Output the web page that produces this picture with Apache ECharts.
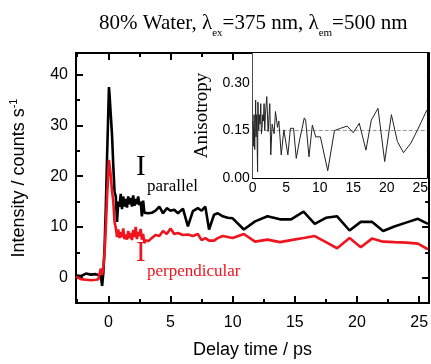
<!DOCTYPE html>
<html>
<head>
<meta charset="utf-8">
<script src="https://cdn.jsdelivr.net/npm/echarts@6/dist/echarts.min.js"></script>
<style>
html,body{margin:0;padding:0;background:#fff;}
#chart{width:431px;height:364px;}
</style>
</head>
<body>
<div id="chart"></div>
<script>
// ---- Data ----
var timeMain = [-2.6,-2.2,-1.8,-1.4,-1.0,-0.8,-0.6,-0.5,-0.4,-0.3,-0.2,-0.1,
  0,0.05,0.1,0.2,0.3,
  0.4,0.5,0.6,0.7,0.8,0.9,1.0,1.1,1.2,1.3,1.4,1.5,1.6,1.7,1.8,1.9,2.0,2.1,2.2,2.3,2.4,2.5,2.6,2.7,2.8,2.9,3.0,
  3.2,3.5,3.8,4.1,4.4,4.7,5.0,5.3,5.6,6.0,
  6.4,6.8,7.2,7.5,7.8,8.1,8.5,8.8,9.2,9.6,10.0,
  10.9,11.8,12.8,13.8,14.7,15.7,16.6,17.5,18.4,19.4,20.3,21.2,22.1,23.0,24.0,24.9,25.7];

var parallel = [0.4,0.3,0.8,0.6,0.7,0.5,0.3,-1.6,1.0,6,14,24,
  33,37.6,36,32,28,
  22,17,16,11,15,14,16.5,13.5,16,14,15.5,13.8,16,14.5,15.7,14,16.2,14.2,15.5,14.5,16,14.3,15,12.1,15.2,12.8,13,
  12.7,12.8,13.2,14,12.7,13.7,13.2,13.4,12.7,13.6,
  10.1,13.1,13.7,13.2,14.0,9.5,12.4,12.7,12.1,11.8,11.7,
  9.5,11.1,12.1,11.5,11.5,13.0,10.6,11.8,12.1,9.3,11.0,11.0,9.2,10.1,10.9,11.6,10.6];

var perpendicular = [0.2,-0.3,-0.4,-0.5,-0.4,-0.3,1.8,0.5,2,5,10,16,
  21,23.2,23,20,17,
  15,11,9.8,8,9.5,7.8,9,8,9.7,7.6,8.5,7.5,9.2,7.8,8.8,7.4,9.4,8.0,10,7.6,9.0,8.2,9.6,7.5,8.6,6.8,7.4,
  7.2,7.8,8.4,8.2,9.2,8.6,9.7,8.6,8.8,8.4,
  8.5,8.2,8.6,7.4,7.8,7.3,7.3,7.8,8.2,8.0,7.8,
  8.6,7.1,7.5,7.0,7.4,7.8,8.2,7.0,5.8,7.8,6.0,7.7,7.1,7.0,6.9,6.7,5.6];

var timeAniso = [0,0.1,0.15,0.2,0.3,0.44,0.5,0.6,0.73,0.78,0.9,0.98,1.1,1.2,1.3,1.4,1.5,1.6,1.7,1.8,
  1.9,2.1,2.3,2.45,2.55,2.7,2.9,3.2,3.4,3.7,3.9,4.26,4.65,5.25,5.63,6.1,6.5,7.0,7.7,7.9,
  8.4,8.9,9.4,10.1,11.2,12.2,13.1,14.1,15.0,15.9,16.9,17.7,18.7,19.7,20.7,21.6,22.5,23.6,24.6,26.0];
var anisotropy = [0.18,0.16,0.10,0.2,0.09,0.246,0.13,0.2,0.02,0.24,0.15,0.2,0.17,0.235,0.14,0.16,0.2,0.18,0.235,0.15,
  0.2,0.257,0.147,0.2,0.235,0.073,0.17,0.14,0.21,0.16,0.18,0.073,0.152,0.073,0.157,0.157,0.062,0.12,0.19,0.183,
  0.067,0.167,0.13,0.13,0.023,0.15,0.157,0.164,0.143,0.173,0.088,0.183,0.22,0.052,0.2,0.115,0.08,0.11,0.152,0.215];
var anisoRef = 0.15;

var mainXMajor = [0,5,10,15,20,25];
var mainXMinor = [-2.5,2.5,7.5,12.5,17.5,22.5];
var mainYMajor = [0,10,20,30,40];
var mainYMinor = [5,15,25,35];
var insetXTicks = [0,5,10,15,20,25];
var insetYTicks = [0,0.15,0.30];

// ---- Chart ----
var SANS = 'Arial, "Liberation Sans", sans-serif';
var SERIF = '"Times New Roman", "Liberation Serif", serif';
var RED = '#f0141e';

function pairs(xs, ys){ return xs.map(function(x,i){ return [x, ys[i]]; }); }

function xAx(grid, pos, min, max, opts){
  var a = {
    gridIndex: grid, type:'value', position: pos, min:min, max:max,
    axisLine:{show: opts.line, onZero:false, lineStyle:{color:'#000', width: opts.lw || 2}},
    axisTick:{show: !!opts.ticks, inside:true, length: opts.tl || 7, customValues: opts.ticks, lineStyle:{color:'#000', width: opts.tw || 2}},
    axisLabel:{show: !!opts.labels, customValues: opts.labels, color:'#000', fontFamily:SANS, fontSize: opts.fs || 16, margin: opts.margin || 10, formatter: opts.fmt},
    splitLine:{show:false}
  };
  return a;
}

var xAxes = [
  Object.assign(xAx(0,'bottom',-2.6,25.8,{line:true, ticks:mainXMajor, labels:mainXMajor, tl:7, margin:12}), {
    name:'Delay time / ps', nameLocation:'middle', nameGap:38,
    nameTextStyle:{fontFamily:SANS, fontSize:18, color:'#000'}
  }),
  xAx(0,'bottom',-2.6,25.8,{line:false, ticks:mainXMinor, tl:4}),
  xAx(0,'top',-2.6,25.8,{line:true, ticks:mainXMajor, tl:7}),
  xAx(0,'top',-2.6,25.8,{line:false, ticks:mainXMinor, tl:4}),
  xAx(1,'bottom',0,26,{line:true, lw:1, ticks:insetXTicks, labels:insetXTicks, tl:4, tw:1, fs:14, margin:3})
];

var yAxes = [
  Object.assign(xAx(0,'left',-5,44.3,{line:true, ticks:mainYMajor, labels:mainYMajor, tl:7, margin:8}), {
    name:'Intensity / counts s{sup|-1}', nameLocation:'middle', nameGap:46, nameRotate:90,
    nameTextStyle:{fontFamily:SANS, fontSize:18, color:'#000', lineHeight:22,
      rich:{sup:{fontFamily:SANS, fontSize:11, lineHeight:11, verticalAlign:'top', color:'#000'}}}
  }),
  xAx(0,'left',-5,44.3,{line:false, ticks:mainYMinor, tl:4}),
  xAx(0,'right',-5,44.3,{line:true, ticks:mainYMajor, tl:7}),
  xAx(0,'right',-5,44.3,{line:false, ticks:mainYMinor, tl:4}),
  Object.assign(xAx(1,'left',0,0.395,{line:true, lw:1, ticks:insetYTicks, labels:insetYTicks, tl:4, tw:1, fs:14, margin:3,
      fmt:function(v){ return v.toFixed(2); }}), {
    name:'Anisotropy', nameLocation:'middle', nameGap:41, nameRotate:90,
    nameTextStyle:{fontFamily:SERIF, fontSize:19, color:'#000'}
  }),
  xAx(1,'right',0,0.395,{line:true, lw:1})
];
yAxes.forEach(function(a){ a.type='value'; });

var option = {
  animation:false,
  backgroundColor:'#fff',
  title:{
    text:'80% Water, λ{s|ex}=375 nm, λ{s|em}=500 nm',
    left:94, top:3,
    textStyle:{fontFamily:SERIF, fontSize:21, fontWeight:'normal', color:'#000', lineHeight:31,
      rich:{s:{fontFamily:SERIF, fontSize:11, lineHeight:11, verticalAlign:'bottom', color:'#000'}}}
  },
  grid:[
    {left:73, top:53, width:357, height:252},
    {left:252.7, top:53, width:177.3, height:125, show:true, backgroundColor:'#fff', borderWidth:0, z:5}
  ],
  xAxis: xAxes,
  yAxis: yAxes,
  series:[
    {type:'line', name:'parallel', xAxisIndex:0, yAxisIndex:0, data:pairs(timeMain, parallel),
      showSymbol:false, symbol:'none', lineStyle:{color:'#000', width:2.6}, itemStyle:{color:'#000'}, z:3},
    {type:'line', name:'perpendicular', xAxisIndex:0, yAxisIndex:0, data:pairs(timeMain, perpendicular),
      showSymbol:false, symbol:'none', lineStyle:{color:RED, width:2.6}, itemStyle:{color:RED}, z:4},
    {type:'line', name:'anisotropy', xAxisIndex:4, yAxisIndex:4, data:pairs(timeAniso, anisotropy),
      showSymbol:false, symbol:'none', lineStyle:{color:'#222', width:1}, itemStyle:{color:'#222'}, z:6,
      markLine:{silent:true, symbol:'none', label:{show:false},
        lineStyle:{color:'#999', type:'dashed', width:1}, data:[{yAxis:anisoRef}]}}
  ],
  graphic:[
    {type:'text', left:136, top:153, style:{text:'I', fontFamily:SERIF, fontSize:29, fill:'#000'}},
    {type:'text', left:147, top:178, style:{text:'parallel', fontFamily:SERIF, fontSize:17, fill:'#000'}},
    {type:'text', left:136, top:239, style:{text:'I', fontFamily:SERIF, fontSize:29, fill:RED}},
    {type:'text', left:147, top:263, style:{text:'perpendicular', fontFamily:SERIF, fontSize:17, fill:RED}}
  ]
};

var chart = echarts.init(document.getElementById('chart'), null, {renderer:'canvas'});
chart.setOption(option);
</script>
</body>
</html>
